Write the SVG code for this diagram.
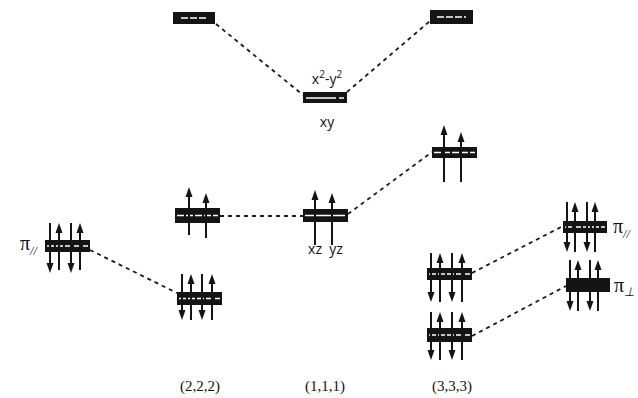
<svg xmlns="http://www.w3.org/2000/svg" xmlns:xlink="http://www.w3.org/1999/xlink" width="638" height="398" viewBox="0 0 638 398">
  <style>
    .bar { fill: #141414; }
    .gap { stroke: #ffffff; stroke-width: 1.6; stroke-dasharray: 7 2; }
    .spin { stroke: #141414; stroke-width: 2; }
    .head { fill: #141414; }
    .conn { stroke: #1a1a1a; stroke-width: 1.8; stroke-dasharray: 4 4; fill: none; }
    .orb { font-family: "Open Sans", "Liberation Sans", sans-serif; font-size: 14px; fill: #111; }
    .sym { font-family: "Liberation Serif", serif; font-size: 15px; fill: #111; }
    .pi { font-family: "Liberation Serif", serif; font-size: 20px; fill: #111; }
    .sub { font-family: "Liberation Serif", serif; font-size: 12px; font-style: italic; fill: #111; }
  </style>
  <defs>
    <!-- spin arrowheads, tip at origin -->
    <polygon id="up" points="0,0 3.5,10 -3.5,10"/>
    <polygon id="dn" points="0,0 3.5,-10 -3.5,-10"/>
  </defs>

  <rect width="638" height="398" fill="#ffffff"/>

  <!-- connectors -->
  <g id="connectors">
    <line class="conn" x1="216" y1="24" x2="303" y2="95"/>
    <line class="conn" x1="347" y1="92" x2="430" y2="21"/>
    <line class="conn" x1="220" y1="216" x2="303" y2="216"/>
    <line class="conn" x1="348" y1="214" x2="432" y2="152"/>
    <line class="conn" x1="90" y1="250" x2="177" y2="293"/>
    <line class="conn" x1="472" y1="273" x2="563" y2="226"/>
    <line class="conn" x1="472" y1="336" x2="566" y2="286"/>
  </g>

  <!-- upper levels -->
  <g id="lvl-222-top">
    <rect class="bar" x="173" y="12" width="42" height="12"/>
    <line class="gap" x1="181" y1="18" x2="207" y2="18"/>
  </g>
  <g id="lvl-333-top">
    <rect class="bar" x="430" y="10" width="43" height="14"/>
    <line class="gap" x1="437" y1="17" x2="466" y2="17"/>
  </g>
  <g id="lvl-111-xy">
    <rect class="bar" x="303" y="92" width="44" height="11"/>
    <line class="gap" x1="306" y1="98" x2="344" y2="98" style="stroke-dasharray:30 3"/>
    <text class="orb" x="327" y="84" text-anchor="middle">x<tspan dy="-6" font-size="10">2</tspan><tspan dy="6">-y</tspan><tspan dy="-6" font-size="10">2</tspan></text>
    <text class="orb" x="327" y="127" text-anchor="middle">xy</text>
  </g>

  <!-- (2,2,2) singly occupied level -->
  <g id="lvl-222-mid">
    <rect class="bar" x="175" y="208" width="45" height="15"/>
    <line class="gap" x1="177" y1="215.5" x2="218" y2="215.5"/>
    <line class="spin" x1="189" y1="195" x2="189" y2="235"/>
    <use href="#up" xlink:href="#up" class="head" x="189" y="187"/>
    <line class="spin" x1="206" y1="201" x2="206" y2="238"/>
    <use href="#up" xlink:href="#up" class="head" x="206" y="193"/>
  </g>

  <!-- (1,1,1) xz / yz level -->
  <g id="lvl-111-mid">
    <rect class="bar" x="303" y="209" width="45" height="13"/>
    <line class="gap" x1="305" y1="215.5" x2="346" y2="215.5" style="stroke-dasharray:40 2"/>
    <line class="spin" x1="315" y1="198" x2="315" y2="245"/>
    <use href="#up" xlink:href="#up" class="head" x="315" y="190"/>
    <line class="spin" x1="332" y1="201" x2="332" y2="245"/>
    <use href="#up" xlink:href="#up" class="head" x="332" y="193"/>
    <text class="orb" x="315" y="254" text-anchor="middle">xz</text>
    <text class="orb" x="336" y="254" text-anchor="middle">yz</text>
  </g>

  <!-- (3,3,3) upper singly occupied level -->
  <g id="lvl-333-mid">
    <rect class="bar" x="432" y="147" width="45" height="11"/>
    <line class="gap" x1="434" y1="152.5" x2="475" y2="152.5"/>
    <line class="spin" x1="444" y1="133" x2="444" y2="182"/>
    <use href="#up" xlink:href="#up" class="head" x="444" y="125"/>
    <line class="spin" x1="461" y1="140" x2="461" y2="182"/>
    <use href="#up" xlink:href="#up" class="head" x="461" y="132"/>
  </g>

  <!-- ligand pi levels, left -->
  <g id="pi-par-left">
    <rect class="bar" x="45" y="240" width="45" height="12"/>
    <line class="gap" x1="47" y1="246" x2="88" y2="246"/>
    <line class="spin" x1="50" y1="223" x2="50" y2="265"/>
    <use href="#dn" xlink:href="#dn" class="head" x="50" y="273"/>
    <line class="spin" x1="59" y1="231" x2="59" y2="270"/>
    <use href="#up" xlink:href="#up" class="head" x="59" y="223"/>
    <line class="spin" x1="71" y1="223" x2="71" y2="265"/>
    <use href="#dn" xlink:href="#dn" class="head" x="71" y="273"/>
    <line class="spin" x1="80" y1="231" x2="80" y2="270"/>
    <use href="#up" xlink:href="#up" class="head" x="80" y="223"/>
    <text class="pi" x="20" y="250">π<tspan class="sub" dy="5">//</tspan></text>
  </g>

  <g id="lvl-222-low">
    <rect class="bar" x="177" y="292" width="45" height="13"/>
    <line class="gap" x1="179" y1="298.5" x2="220" y2="298.5"/>
    <line class="spin" x1="182" y1="274" x2="182" y2="312"/>
    <use href="#dn" xlink:href="#dn" class="head" x="182" y="320"/>
    <line class="spin" x1="191" y1="282" x2="191" y2="320"/>
    <use href="#up" xlink:href="#up" class="head" x="191" y="274"/>
    <line class="spin" x1="202" y1="274" x2="202" y2="312"/>
    <use href="#dn" xlink:href="#dn" class="head" x="202" y="320"/>
    <line class="spin" x1="212" y1="282" x2="212" y2="320"/>
    <use href="#up" xlink:href="#up" class="head" x="212" y="274"/>
  </g>

  <g id="lvl-333-pi1">
    <rect class="bar" x="427" y="268" width="45" height="12"/>
    <line class="gap" x1="429" y1="274" x2="470" y2="274"/>
    <line class="spin" x1="431" y1="253" x2="431" y2="294"/>
    <use href="#dn" xlink:href="#dn" class="head" x="431" y="302"/>
    <line class="spin" x1="440" y1="261" x2="440" y2="302"/>
    <use href="#up" xlink:href="#up" class="head" x="440" y="253"/>
    <line class="spin" x1="452" y1="253" x2="452" y2="294"/>
    <use href="#dn" xlink:href="#dn" class="head" x="452" y="302"/>
    <line class="spin" x1="462" y1="261" x2="462" y2="302"/>
    <use href="#up" xlink:href="#up" class="head" x="462" y="253"/>
  </g>

  <g id="lvl-333-pi2">
    <rect class="bar" x="427" y="328" width="45" height="14"/>
    <line class="gap" x1="429" y1="335" x2="470" y2="335"/>
    <line class="spin" x1="431" y1="312" x2="431" y2="352"/>
    <use href="#dn" xlink:href="#dn" class="head" x="431" y="360"/>
    <line class="spin" x1="440" y1="320" x2="440" y2="360"/>
    <use href="#up" xlink:href="#up" class="head" x="440" y="312"/>
    <line class="spin" x1="452" y1="312" x2="452" y2="352"/>
    <use href="#dn" xlink:href="#dn" class="head" x="452" y="360"/>
    <line class="spin" x1="462" y1="320" x2="462" y2="360"/>
    <use href="#up" xlink:href="#up" class="head" x="462" y="312"/>
  </g>

  <!-- ligand pi levels, right -->
  <g id="pi-par-right">
    <rect class="bar" x="563" y="221" width="44" height="12"/>
    <line class="gap" x1="565" y1="227" x2="605" y2="227"/>
    <line class="spin" x1="567" y1="202" x2="567" y2="244"/>
    <use href="#dn" xlink:href="#dn" class="head" x="567" y="252"/>
    <line class="spin" x1="575" y1="210" x2="575" y2="252"/>
    <use href="#up" xlink:href="#up" class="head" x="575" y="202"/>
    <line class="spin" x1="587" y1="202" x2="587" y2="244"/>
    <use href="#dn" xlink:href="#dn" class="head" x="587" y="252"/>
    <line class="spin" x1="595" y1="210" x2="595" y2="252"/>
    <use href="#up" xlink:href="#up" class="head" x="595" y="202"/>
    <text class="pi" x="613" y="233">π<tspan class="sub" dy="5">//</tspan></text>
  </g>

  <g id="pi-perp-right">
    <rect class="bar" x="566" y="278" width="44" height="14"/>
    <line class="spin" x1="570" y1="260" x2="570" y2="303"/>
    <use href="#dn" xlink:href="#dn" class="head" x="570" y="311"/>
    <line class="spin" x1="578" y1="268" x2="578" y2="311"/>
    <use href="#up" xlink:href="#up" class="head" x="578" y="260"/>
    <line class="spin" x1="590" y1="260" x2="590" y2="303"/>
    <use href="#dn" xlink:href="#dn" class="head" x="590" y="311"/>
    <line class="spin" x1="598" y1="268" x2="598" y2="311"/>
    <use href="#up" xlink:href="#up" class="head" x="598" y="260"/>
    <text class="pi" x="614" y="292">π<tspan class="sub" font-style="normal" dy="4">⊥</tspan></text>
  </g>

  <!-- configuration labels -->
  <g id="labels">
    <text class="sym" x="200" y="391" text-anchor="middle">(2,2,2)</text>
    <text class="sym" x="325" y="391" text-anchor="middle">(1,1,1)</text>
    <text class="sym" x="452" y="391" text-anchor="middle">(3,3,3)</text>
  </g>
</svg>
